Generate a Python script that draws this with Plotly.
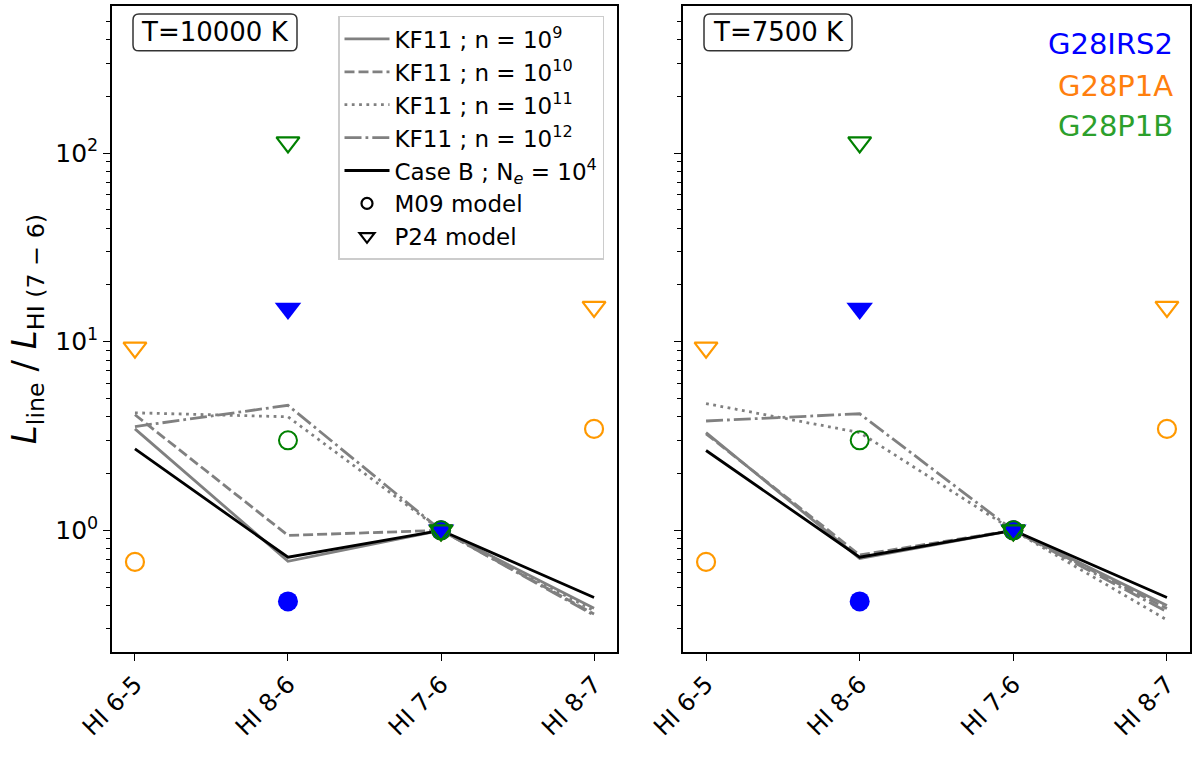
import plotly.graph_objects as go

# ---------------- data ----------------
categories = ["HI 6-5", "HI 8-6", "HI 7-6", "HI 8-7"]

# KF11 models and Case B, T = 10000 K
kf11_n9_T10000 = [3.45, 0.685, 1.0, 0.386]
kf11_n10_T10000 = [4.1, 0.94, 1.0, 0.36]
kf11_n11_T10000 = [4.2, 4.0, 1.0, 0.375]
kf11_n12_T10000 = [3.55, 4.6, 1.0, 0.355]
caseB_T10000 = [2.7, 0.72, 1.0, 0.44]

# KF11 models and Case B, T = 7500 K
kf11_n9_T7500 = [3.3, 0.71, 1.0, 0.40]
kf11_n10_T7500 = [3.25, 0.74, 1.0, 0.385]
kf11_n11_T7500 = [4.7, 3.3, 1.0, 0.335]
kf11_n12_T7500 = [3.8, 4.15, 1.0, 0.37]
caseB_T7500 = [2.65, 0.72, 1.0, 0.44]

# Observed sources (model-corrected ratios)
irs2_cats = ["HI 8-6", "HI 7-6"]
irs2_m09 = [0.42, 1.0]
irs2_p24 = [15.0, 1.0]

p1a_cats = ["HI 6-5", "HI 7-6", "HI 8-7"]
p1a_m09 = [0.68, 1.0, 3.45]
p1a_p24 = [9.3, 1.0, 15.3]

p1b_cats = ["HI 8-6", "HI 7-6"]
p1b_m09 = [3.0, 1.0]
p1b_p24 = [114.0, 1.0]

kf11_labels = ["KF11 ; n = 10<sup>9</sup>", "KF11 ; n = 10<sup>10</sup>",
               "KF11 ; n = 10<sup>11</sup>", "KF11 ; n = 10<sup>12</sup>"]
caseB_label = "Case B ; N<sub><i>e</i></sub> = 10<sup>4</sup>"
panel_titles = ["T=10000 K", "T=7500 K"]
source_names = ["G28IRS2", "G28P1A", "G28P1B"]
ytick_vals = [1, 10, 100]
ytick_text = ["10<sup>0</sup>", "10<sup>1</sup>", "10<sup>2</sup>"]
yminor_vals = [0.3, 0.4, 0.5, 0.6, 0.7, 0.8, 0.9,
               2, 3, 4, 5, 6, 7, 8, 9,
               20, 30, 40, 50, 60, 70, 80, 90,
               200, 300, 400, 500]

# ---------------- style ----------------
GRAY = "#808080"
ORANGE = "#FF9900"
BLUE = "#0000FF"
GREEN = "#008000"
dashes = ["solid", "10px,4px", "2.8px,4.5px", "17px,4px,2.8px,4px"]
FONT = "DejaVu Sans"
LW = 2.8

fig = go.Figure()

panels = [
    ("x", "y", [kf11_n9_T10000, kf11_n10_T10000, kf11_n11_T10000, kf11_n12_T10000], caseB_T10000, True),
    ("x2", "y2", [kf11_n9_T7500, kf11_n10_T7500, kf11_n11_T7500, kf11_n12_T7500], caseB_T7500, False),
]

for xa, ya, kfs, cb, show in panels:
    for vals, lab, dsh in zip(kfs, kf11_labels, dashes):
        fig.add_trace(go.Scatter(x=categories, y=vals, mode="lines", name=lab,
                                 line=dict(color=GRAY, width=LW, dash=dsh),
                                 xaxis=xa, yaxis=ya, showlegend=show))
    fig.add_trace(go.Scatter(x=categories, y=cb, mode="lines", name=caseB_label,
                             line=dict(color="black", width=LW),
                             xaxis=xa, yaxis=ya, showlegend=show))
    # observed points: orange, blue, green order
    fig.add_trace(go.Scatter(x=p1a_cats, y=p1a_m09, mode="markers",
                             marker=dict(symbol="circle-open", size=18, color=ORANGE, line=dict(width=2.2)),
                             xaxis=xa, yaxis=ya, showlegend=False))
    fig.add_trace(go.Scatter(x=p1a_cats, y=p1a_p24, mode="markers",
                             marker=dict(symbol="triangle-down-open", size=20, color=ORANGE, line=dict(width=2.2)),
                             xaxis=xa, yaxis=ya, showlegend=False))
    fig.add_trace(go.Scatter(x=irs2_cats, y=irs2_p24, mode="markers",
                             marker=dict(symbol="triangle-down", size=23, color=BLUE, line=dict(width=0)),
                             xaxis=xa, yaxis=ya, showlegend=False))
    fig.add_trace(go.Scatter(x=irs2_cats, y=irs2_m09, mode="markers",
                             marker=dict(symbol="circle", size=20, color=BLUE, line=dict(width=0)),
                             xaxis=xa, yaxis=ya, showlegend=False))
    fig.add_trace(go.Scatter(x=p1b_cats, y=p1b_p24, mode="markers",
                             marker=dict(symbol="triangle-down-open", size=20, color=GREEN, line=dict(width=2.2)),
                             xaxis=xa, yaxis=ya, showlegend=False))
    fig.add_trace(go.Scatter(x=p1b_cats, y=p1b_m09, mode="markers",
                             marker=dict(symbol="circle-open", size=18, color=GREEN, line=dict(width=2)),
                             xaxis=xa, yaxis=ya, showlegend=False))

# legend-only marker entries
fig.add_trace(go.Scatter(x=[None], y=[None], mode="markers", name="M09 model",
                         marker=dict(symbol="circle-open", size=11, color="black", line=dict(width=2.2)),
                         xaxis="x", yaxis="y"))
fig.add_trace(go.Scatter(x=[None], y=[None], mode="markers", name="P24 model",
                         marker=dict(symbol="triangle-down-open", size=13, color="black", line=dict(width=2.2)),
                         xaxis="x", yaxis="y"))

W, H = 1200, 763
ml, mr, mt, mb = 112, 10, 4, 111
pw = W - ml - mr
ph = H - mt - mb
left_dom = [0, (617 - ml) / pw]
right_dom = [(683 - ml) / pw, 1.0]

xcommon = dict(type="category", categoryorder="array", categoryarray=categories,
               range=[-0.15, 3.15], showline=True, linecolor="black", linewidth=1.5,
               mirror=True, ticks="outside", ticklen=7, tickwidth=1.3, tickcolor="black",
               tickangle=-45, tickfont=dict(family=FONT, size=24, color="black"),
               showgrid=False, zeroline=False)
ycommon = dict(type="log", range=[-0.645, 2.78], showline=True, linecolor="black", linewidth=1.5,
               mirror=True, ticks="outside", ticklen=7, tickwidth=1.3, tickcolor="black",
               tickmode="array", tickvals=ytick_vals, ticktext=ytick_text,
               tickfont=dict(family=FONT, size=25, color="black"),
               minor=dict(tickmode="array", tickvals=yminor_vals, ticks="outside", ticklen=4,
                          tickwidth=1, tickcolor="black", showgrid=False),
               showgrid=False, zeroline=False)

fig.update_layout(
    width=W, height=H,
    margin=dict(l=ml, r=mr, t=mt, b=mb),
    paper_bgcolor="white", plot_bgcolor="white",
    font=dict(family=FONT, color="black"),
    xaxis=dict(domain=left_dom, anchor="y", **xcommon),
    xaxis2=dict(domain=right_dom, anchor="y2", **xcommon),
    yaxis=dict(anchor="x", title=dict(
        text="<i>L</i><sub>line</sub> / <i>L</i><sub>HI (7 − 6)</sub>",
        font=dict(family=FONT, size=34, color="black"), standoff=8), **ycommon),
    yaxis2=dict(anchor="x2", showticklabels=False, **ycommon),
    legend=dict(x=(338 - ml) / pw, y=1 - (14 - mt) / ph, xanchor="left", yanchor="top",
                bgcolor="rgba(255,255,255,0.85)", bordercolor="#cccccc", borderwidth=1.5,
                font=dict(family=FONT, size=23, color="black"), tracegroupgap=0,
                itemwidth=45),
)

# panel temperature boxes (rounded) with text
boxes = [("x domain", "y domain", panel_titles[0], 133, 297, 617 - 112, 112),
         ("x2 domain", "y2 domain", panel_titles[1], 704, 852, 1190 - 683, 683)]
for xd, yd, title, x0px, x1px, dw, dx in boxes:
    x0 = (x0px - dx) / dw
    x1 = (x1px - dx) / dw
    y0 = 1 - (49 - mt) / ph
    y1 = 1 - (12 - mt) / ph
    rx = 6 / dw
    ry = 6 / ph
    path = (f"M {x0 + rx},{y1} L {x1 - rx},{y1} Q {x1},{y1} {x1},{y1 - ry} "
            f"L {x1},{y0 + ry} Q {x1},{y0} {x1 - rx},{y0} L {x0 + rx},{y0} "
            f"Q {x0},{y0} {x0},{y0 + ry} L {x0},{y1 - ry} Q {x0},{y1} {x0 + rx},{y1} Z")
    fig.add_shape(type="path", path=path, xref=xd, yref=yd,
                  line=dict(color="#333333", width=1.5), fillcolor="white", layer="above")
    fig.add_annotation(xref=xd, yref=yd, x=(x0 + x1) / 2, y=(y0 + y1) / 2,
                       xanchor="center", yanchor="middle", text=title, showarrow=False,
                       font=dict(family=FONT, size=26, color="black"))

# source names in right panel
for name, col, ypx in zip(source_names, [BLUE, "#FF7F0E", "#2CA02C"], [42, 84, 124]):
    fig.add_annotation(xref="x2 domain", yref="y2 domain", x=(1175 - 683) / 507,
                       y=1 - (ypx - mt) / ph, xanchor="right", yanchor="middle",
                       text=name, showarrow=False,
                       font=dict(family=FONT, size=29, color=col))

fig.write_html("out.html")
